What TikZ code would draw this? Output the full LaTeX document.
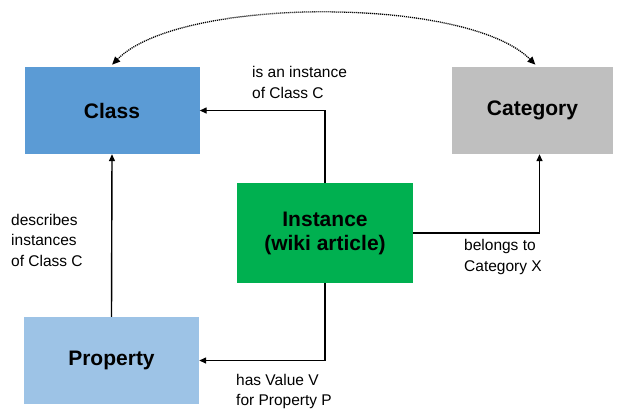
\documentclass[tikz,border=0pt]{standalone}
\usepackage{fontspec}
\setmainfont{Liberation Sans}
\usetikzlibrary{arrows.meta}
\definecolor{classblue}{HTML}{5B9BD5}
\definecolor{catgray}{HTML}{BFBFBF}
\definecolor{instgreen}{HTML}{00B050}
\definecolor{propblue}{HTML}{9DC3E6}
\tikzset{
  box/.style={rectangle, inner sep=0pt, align=center, font=\fontsize{21}{24}\selectfont\bfseries, text=black},
  lbl/.style={inner sep=0pt, anchor=base west, align=left, font=\fontsize{15.5}{20.5}\selectfont},
  arr/.style={line width=1.4pt, -{Triangle[length=7pt,width=6pt]}},
  dotarr/.style={line width=1.3pt, dash pattern=on 1.1pt off 0.9pt, {Triangle[length=8pt,width=7pt]}-{Triangle[length=8pt,width=7pt]}, shorten <=3pt, shorten >=3pt}
}
\begin{document}
\begin{tikzpicture}[x=1pt,y=-1pt]
\useasboundingbox (0,0) rectangle (617,408);
\node[box, fill=classblue, minimum width=175pt, minimum height=87pt] (class) at (112,110.5) {Class};
\node[box, fill=catgray, minimum width=161pt, minimum height=87pt] (category) at (532.5,110.5) {Category};
\node[box, fill=instgreen, minimum width=176pt, minimum height=100pt] (instance) at (325,233) {Instance\\(wiki article)};
\node[box, fill=propblue, minimum width=175pt, minimum height=87pt] (property) at (111.5,360.5) {Property};

\coordinate (classtop) at ([xshift=-2pt]class.north);
\coordinate (cattop) at ([xshift=5pt]category.north);
\coordinate (catbot) at ([xshift=7pt]category.south);

\draw[dotarr] (classtop) .. controls (180,-4) and (467,-4) .. (cattop);
\draw[arr] (instance.north) |- (class.east);
\draw[arr] (instance.east) -| (catbot);
\draw[arr] (instance.south) |- (property.east);
\draw[arr] (property.north) -- (class.south);

\node[lbl] (l1) at (252,98) {is an instance\\of Class C};
\node[lbl] (l2) at (11,266) {describes\\instances\\of Class C};
\node[lbl] (l3) at (464,271) {belongs to\\Category X};
\node[lbl] (l4) at (236,405.5) {has Value V\\for Property P};
\end{tikzpicture}
\end{document}
